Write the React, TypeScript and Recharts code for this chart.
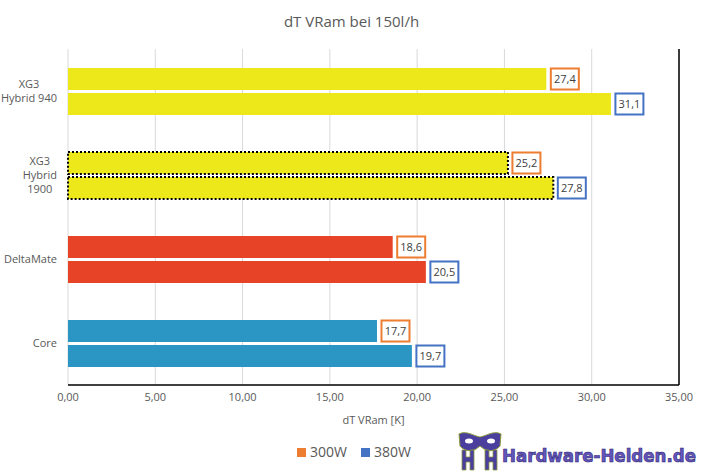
import React from "react"
import {
  BarChart,
  Bar,
  XAxis,
  YAxis,
  CartesianGrid,
  Cell,
  LabelList,
  ReferenceLine,
} from "recharts"

// data
const categories = ["XG3\nHybrid 940", "XG3\nHybrid\n1900", "DeltaMate", "Core"]
const values300 = [27.4, 25.2, 18.6, 17.7]
const values380 = [31.1, 27.8, 20.5, 19.7]
const xTicks = [0, 5, 10, 15, 20, 25, 30, 35]
const seriesNames = ["300W", "380W"]

// styling
const FONT = "'Open Sans', sans-serif"
const TEXT = "#595959"
const BAR_COLORS = ["#ECE81A", "#ECE81A", "#E64327", "#2B96C4"]
const DOTTED = [false, true, false, false]
const SERIES_COLORS = ["#ED7D31", "#4472C4"]

const W = 703
const H = 475

const data = categories.map((name, i) => ({
  name,
  v300: values300[i],
  v380: values380[i],
}))

let ctx: CanvasRenderingContext2D | null = null
function measure(text: string, size: number) {
  if (!ctx) ctx = document.createElement("canvas").getContext("2d")
  if (!ctx) return text.length * size * 0.55
  ctx.font = `${size}px ${FONT}`
  return ctx.measureText(text).width
}

const fmtTick = (v: number) => v.toFixed(2).replace(".", ",")
const fmtVal = (v: number) => v.toFixed(1).replace(".", ",")

function CategoryTick(props: any) {
  const { y, payload } = props
  const lines = String(payload.value).split("\n")
  const block = Math.max(...lines.map((l) => measure(l, 11)))
  const cx = 57 - block / 2
  const lh = 14
  const y0 = y - ((lines.length - 1) * lh) / 2
  return (
    <text textAnchor="middle" fill={TEXT} fontSize={11} fontFamily={FONT}>
      {lines.map((l, i) => (
        <tspan key={i} x={cx} y={y0 + i * lh} dy="0.35em">
          {l}
        </tspan>
      ))}
    </text>
  )
}

const makeLabel = (border: string) => (props: any) => {
  const { x, y, width, height, value } = props
  const bx = Number(x) + Number(width) + 3.5
  const w = 30
  return (
    <g>
      <rect
        x={bx + 1}
        y={Number(y) + 0.5}
        width={w - 2}
        height={Number(height) - 1}
        fill="#fff"
        stroke={border}
        strokeWidth={2}
      />
      <text
        x={bx + w / 2}
        y={Number(y) + Number(height) / 2}
        dy="0.35em"
        textAnchor="middle"
        fontSize={11}
        fontFamily={FONT}
        fill="#404040"
      >
        {fmtVal(Number(value))}
      </text>
    </g>
  )
}

function Logo() {
  return (
    <g>
      {/* mask */}
      <path
        d="M459 434 C466 430 474 436 480 437 C486 436 494 430 501 434 L500 446 C496 451 489 452 484 449 L480 446 L476 449 C471 452 464 451 460 446 Z"
        fill="#4B3F9E"
        stroke="#8C9A3C"
        strokeWidth={1}
      />
      <ellipse cx={469} cy={441} rx={4} ry={2.5} fill="#fff" />
      <ellipse cx={491} cy={441} rx={4} ry={2.5} fill="#fff" />
      <path
        d="M462 450 L466 450 L466 457 L470 457 L470 450 L474 450 L474 470 L470 470 L470 462 L466 462 L466 470 L462 470 Z"
        fill="#4B3F9E"
        stroke="#8C9A3C"
        strokeWidth={0.8}
      />
      <path
        d="M485 450 L489 450 L489 457 L493 457 L493 450 L497 450 L497 470 L493 470 L493 462 L489 462 L489 470 L485 470 Z"
        fill="#4B3F9E"
        stroke="#8C9A3C"
        strokeWidth={0.8}
      />
      <text
        x={502}
        y={462}
        fontSize={17}
        fontWeight="bold"
        fontFamily="'DejaVu Sans', sans-serif"
        fill="#6356BE"
        stroke="#2E2470"
        strokeWidth={0.6}
        textLength={194}
        lengthAdjust="spacingAndGlyphs"
      >
        Hardware-Helden.de
      </text>
    </g>
  )
}

export default function App() {
  return (
    <div
      style={{
        position: "absolute",
        left: 0,
        top: 0,
        width: W,
        height: H,
        background: "#fff",
      }}
    >
      <BarChart
        width={W}
        height={H}
        data={data}
        layout="vertical"
        margin={{ top: 49, right: 24, bottom: 60, left: 0 }}
        barCategoryGap={19}
        barGap={3}
      >
        <CartesianGrid horizontal={false} stroke="#D9D9D9" />
        <XAxis
          type="number"
          domain={[0, 35]}
          ticks={xTicks}
          tickFormatter={fmtTick}
          tick={{ fontSize: 11, fill: TEXT, fontFamily: FONT }}
          tickLine={false}
          axisLine={{ stroke: "#000", strokeWidth: 1.5 }}
          height={30}
          interval={0}
        />
        <XAxis
          xAxisId="top"
          orientation="top"
          type="number"
          domain={[0, 35]}
          ticks={xTicks}
          tick={false}
          tickLine={false}
          axisLine={{ stroke: "#000", strokeWidth: 1.5 }}
          height={0}
        />
        <YAxis
          type="category"
          dataKey="name"
          width={68}
          tick={<CategoryTick />}
          tickLine={false}
          axisLine={false}
          interval={0}
        />
        <ReferenceLine x={35} stroke="#000" strokeWidth={1.5} />
        <Bar dataKey="v300" name={seriesNames[0]} isAnimationActive={false}>
          {data.map((_, i) => (
            <Cell
              key={`a${i}`}
              fill={BAR_COLORS[i]}
              stroke={DOTTED[i] ? "#000" : "none"}
              strokeWidth={DOTTED[i] ? 2 : 0}
              strokeDasharray={DOTTED[i] ? "2 2" : undefined}
            />
          ))}
          <LabelList dataKey="v300" content={makeLabel(SERIES_COLORS[0])} />
        </Bar>
        <Bar dataKey="v380" name={seriesNames[1]} isAnimationActive={false}>
          {data.map((_, i) => (
            <Cell
              key={`b${i}`}
              fill={BAR_COLORS[i]}
              stroke={DOTTED[i] ? "#000" : "none"}
              strokeWidth={DOTTED[i] ? 2 : 0}
              strokeDasharray={DOTTED[i] ? "2 2" : undefined}
            />
          ))}
          <LabelList dataKey="v380" content={makeLabel(SERIES_COLORS[1])} />
        </Bar>
      </BarChart>
      <svg
        width={W}
        height={H}
        style={{ position: "absolute", left: 0, top: 0, pointerEvents: "none" }}
      >
        <text
          x={351.5}
          y={22}
          dy="0.35em"
          textAnchor="middle"
          fontSize={15}
          fontFamily={FONT}
          fill={TEXT}
        >
          dT VRam bei 150l/h
        </text>
        <text
          x={373.5}
          y={420}
          dy="0.35em"
          textAnchor="middle"
          fontSize={11}
          fontFamily={FONT}
          fill={TEXT}
        >
          dT VRam [K]
        </text>
        {seriesNames.map((n, i) => (
          <g key={n}>
            <rect x={297 + i * 64} y={448} width={9} height={9} fill={SERIES_COLORS[i]} />
            <text
              x={310 + i * 64}
              y={452.5}
              dy="0.35em"
              fontSize={14}
              fontFamily={FONT}
              fill={TEXT}
            >
              {n}
            </text>
          </g>
        ))}
        <Logo />
      </svg>
    </div>
  )
}
